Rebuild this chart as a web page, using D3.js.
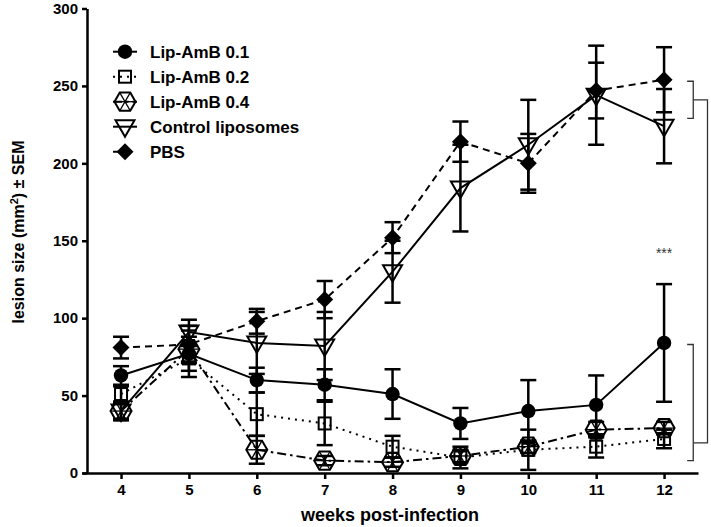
<!DOCTYPE html>
<html>
<head>
<meta charset="utf-8">
<script src="https://cdn.jsdelivr.net/npm/d3@7"></script>
<style>
  html, body { margin: 0; padding: 0; background: #fff; }
  svg text { font-family: "Liberation Sans", Arial, sans-serif; font-weight: bold; }
</style>
</head>
<body>
<svg id="chart" width="711" height="527"></svg>
<script>
// ---------- data ----------
const weeks = [4, 5, 6, 7, 8, 9, 10, 11, 12];
const xTicks = [4, 5, 6, 7, 8, 9, 10, 11, 12];
const yTicks = [0, 50, 100, 150, 200, 250, 300];

const seriesNames = ["Lip-AmB 0.1", "Lip-AmB 0.2", "Lip-AmB 0.4", "Control liposomes", "PBS"];
const lipAmB01    = [63, 77, 60, 57, 51, 32, 40, 44, 84];
const lipAmB01Err = [6, 15, 8, 10, 16, 10, 20, 19, 38];
const lipAmB02    = [51, 74, 38, 32, 17, 10, 15, 17, 22];
const lipAmB02Err = [5, 8, 14, 14, 7, 7, 13, 7, 6];
const lipAmB04    = [40, 80, 15, 8, 7, 11, 17, 28, 29];
const lipAmB04Err = [5, 8, 9, 3, 3, 4, 4, 5, 4];
const control     = [40, 91, 84, 82, 130, 184, 212, 244, 224];
const controlErr  = [6, 8, 20, 22, 20, 28, 29, 32, 24];
const pbs         = [81, 83, 98, 112, 152, 214, 200, 247, 254];
const pbsErr      = [7, 12, 8, 12, 10, 13, 19, 18, 21];

// significance brackets (value ranges) and label
const bracketUpper = [229, 253];
const bracketLower = [8, 83];
const starLabel = "***";
const starValue = 142;

// ---------- layout ----------
const svg = d3.select("#chart");
const x = d3.scaleLinear().domain([3.425, 12.5]).range([82, 698]);
const y = d3.scaleLinear().domain([0, 300]).range([473, 8.5]);

const styles = [
  { name: seriesNames[0], vals: lipAmB01, errs: lipAmB01Err, dash: null,        sym: "circle" },
  { name: seriesNames[1], vals: lipAmB02, errs: lipAmB02Err, dash: "2,5",       sym: "square" },
  { name: seriesNames[2], vals: lipAmB04, errs: lipAmB04Err, dash: "9,4,2.5,4", sym: "hex" },
  { name: seriesNames[3], vals: control,  errs: controlErr,  dash: null,        sym: "tri" },
  { name: seriesNames[4], vals: pbs,      errs: pbsErr,      dash: "7,5",       sym: "diamond" }
];

// ---------- axes ----------
const yAxis = d3.axisLeft(y).tickValues(yTicks).tickSize(5).tickSizeOuter(0).tickPadding(4);
const gy = svg.append("g").attr("transform", "translate(87,0)").call(yAxis);
gy.select(".domain").attr("stroke-width", 2.5);
gy.selectAll(".tick line").attr("stroke-width", 2.5);
gy.selectAll(".tick text").style("font-size", "15px").attr("fill", "#000");

const xAxis = d3.axisBottom(x).tickValues(xTicks).tickSize(6).tickSizeOuter(0).tickPadding(5);
const gx = svg.append("g").attr("transform", "translate(0,473)").call(xAxis);
gx.select(".domain").attr("stroke-width", 2.5);
gx.selectAll(".tick line").attr("stroke-width", 2.5);
gx.selectAll(".tick text").style("font-size", "15px").attr("fill", "#000");

// axis titles
svg.append("text")
  .attr("x", 390).attr("y", 521)
  .attr("text-anchor", "middle")
  .style("font-size", "18px")
  .text("weeks post-infection");

const yt = svg.append("text")
  .attr("transform", "translate(24,232) rotate(-90)")
  .attr("text-anchor", "middle")
  .style("font-size", "16px");
yt.append("tspan").text("lesion size (mm");
yt.append("tspan").attr("dy", -6).style("font-size", "11px").text("2");
yt.append("tspan").attr("dy", 6).text(") ± SEM");

// ---------- symbols ----------
function drawSymbol(g, sym) {
  if (sym === "circle") {
    g.append("circle").attr("r", 7.2).attr("fill", "#000");
  } else if (sym === "square") {
    g.append("rect").attr("x", -6).attr("y", -6).attr("width", 12).attr("height", 12)
      .attr("fill", "none").attr("stroke", "#000").attr("stroke-width", 2);
  } else if (sym === "hex") {
    const r = 10.5;
    const pts = d3.range(6).map(i => [r * Math.cos(i * Math.PI / 3), r * Math.sin(i * Math.PI / 3)]);
    g.append("polygon").attr("points", pts.map(p => p.join(",")).join(" "))
      .attr("fill", "none").attr("stroke", "#000").attr("stroke-width", 2);
    for (let i = 0; i < 3; i++) {
      g.append("line")
        .attr("x1", pts[i][0]).attr("y1", pts[i][1])
        .attr("x2", pts[i + 3][0]).attr("y2", pts[i + 3][1])
        .attr("stroke", "#000").attr("stroke-width", 1.3);
    }
  } else if (sym === "tri") {
    g.append("polygon").attr("points", "-9.5,-6.5 9.5,-6.5 0,10")
      .attr("fill", "none").attr("stroke", "#000").attr("stroke-width", 2)
      .attr("stroke-linejoin", "miter");
  } else if (sym === "diamond") {
    g.append("polygon").attr("points", "0,-8.5 8.5,0 0,8.5 -8.5,0").attr("fill", "#000");
  }
}

// ---------- series (drawn in reverse so first series is on top) ----------
const plot = svg.append("g");
const line = d3.line().x((d, i) => x(weeks[i])).y(d => y(d));

styles.slice().reverse().forEach(s => {
  const g = plot.append("g");
  // error bars
  s.vals.forEach((v, i) => {
    const cx = x(weeks[i]);
    const e = s.errs[i];
    g.append("line").attr("x1", cx).attr("x2", cx).attr("y1", y(v - e)).attr("y2", y(v + e))
      .attr("stroke", "#000").attr("stroke-width", 2.5);
    [v - e, v + e].forEach(val => {
      g.append("line").attr("x1", cx - 8).attr("x2", cx + 8).attr("y1", y(val)).attr("y2", y(val))
        .attr("stroke", "#000").attr("stroke-width", 2.5);
    });
  });
  // line
  g.append("path").datum(s.vals).attr("d", line)
    .attr("fill", "none").attr("stroke", "#000").attr("stroke-width", 2)
    .attr("stroke-dasharray", s.dash);
  // markers
  s.vals.forEach((v, i) => {
    const m = g.append("g").attr("transform", `translate(${x(weeks[i])},${y(v)})`);
    drawSymbol(m, s.sym);
  });
});

// ---------- legend ----------
const legend = svg.append("g");
styles.forEach((s, i) => {
  const ly = 51.7 + i * 25;
  const row = legend.append("g").attr("transform", `translate(125,${ly})`);
  row.append("line").attr("x1", -12).attr("x2", 12).attr("y1", 0).attr("y2", 0)
    .attr("stroke", "#000").attr("stroke-width", 2).attr("stroke-dasharray", s.dash);
  drawSymbol(row, s.sym);
  row.append("text").attr("x", 25).attr("y", 6).style("font-size", "17px").text(s.name);
});

// ---------- significance brackets ----------
const bx0 = x(12.34), bx1 = x(12.43), bx2 = x(12.64);
const br = svg.append("g").attr("fill", "none").attr("stroke", "#333").attr("stroke-width", 1.3);
br.append("path").attr("d",
  `M${bx0},${y(bracketUpper[1])}H${bx1}V${y(bracketUpper[0])}H${bx0}`);
br.append("path").attr("d",
  `M${bx0},${y(bracketLower[1])}H${bx1}V${y(bracketLower[0])}H${bx0}`);
const upMid = (bracketUpper[0] + bracketUpper[1]) / 2;
br.append("path").attr("d",
  `M${bx1},${y(upMid)}H${bx2}V${y(19.5)}H${bx1}`);

svg.append("text")
  .attr("x", x(12)).attr("y", y(starValue) + 5)
  .attr("text-anchor", "middle")
  .style("font-size", "14px").style("font-weight", "normal")
  .attr("fill", "#333")
  .text(starLabel);
</script>
</body>
</html>
